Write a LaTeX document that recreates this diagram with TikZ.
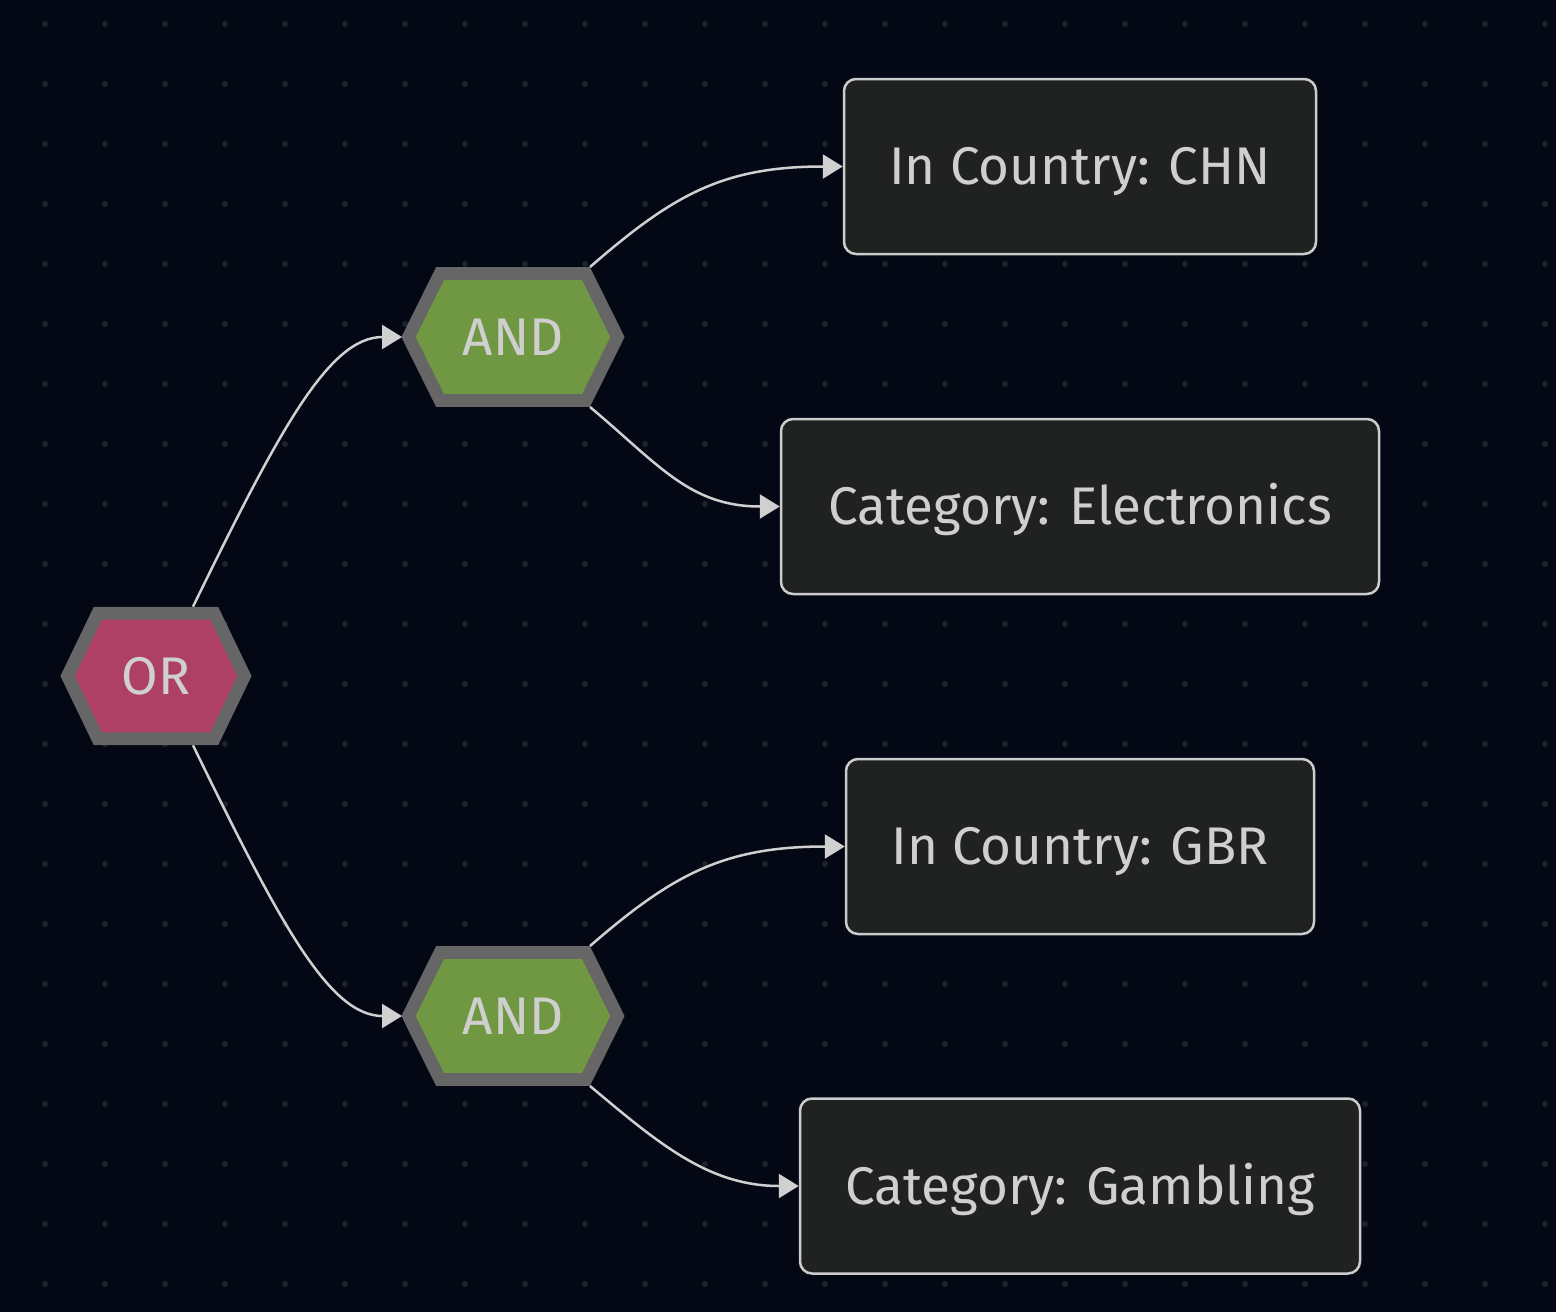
\documentclass[tikz,border=0pt]{standalone}
\usepackage{fontspec}
\setmainfont{Fira Sans}
\usetikzlibrary{calc,arrows.meta}
\definecolor{bg}{HTML}{030814}
\definecolor{dotc}{HTML}{1E222C}
\definecolor{orfill}{HTML}{AE4066}
\definecolor{andfill}{HTML}{709842}
\definecolor{hexborder}{HTML}{666666}
\definecolor{boxfill}{HTML}{202121}
\definecolor{boxline}{HTML}{CCCCCC}
\definecolor{txt}{HTML}{CFCFCF}
\definecolor{edgec}{HTML}{D0D0D0}
\newcommand\drawhexagon[5]{%
  \draw[hexline,fill=#2] ($(#1)+(-#3,0)$) -- ($(#1)+(-#4,-#5)$) -- ($(#1)+(#4,-#5)$) -- ($(#1)+(#3,0)$) -- ($(#1)+(#4,#5)$) -- ($(#1)+(-#4,#5)$) -- cycle;}
\begin{document}
\begin{tikzpicture}[x=1pt,y=-1pt,
  hexline/.style={draw=hexborder,line width=12.7pt,line join=miter},
  labeltext/.style={text=txt,font=\fontsize{53}{62}\selectfont,inner sep=0pt,text height=36.5pt,text depth=0pt},
  condbox/.style={labeltext,draw=boxline,fill=boxfill,line width=2.5pt,rounded corners=12pt,minimum height=175pt},
  link/.style={draw=edgec,line width=2.5pt,-{Triangle[length=20pt,width=24pt]}}
]
\useasboundingbox (0,0) rectangle (1556,1312);
\fill[bg] (0,0) rectangle (1556,1312);
\foreach \i in {0,...,25}{\foreach \j in {0,...,21}{\fill[dotc] (45+60*\i,24+60*\j) circle[radius=3pt];}}

% hexagons
\coordinate (or) at (156,676);
\coordinate (and1) at (513,337);
\coordinate (and2) at (513,1016);
\drawhexagon{or}{orfill}{88.5}{58.2}{62.8}
\drawhexagon{and1}{andfill}{104.5}{73}{63.5}
\drawhexagon{and2}{andfill}{104.5}{73}{63.5}
\node[labeltext] (ortext) at (or) {OR};
\node[labeltext] (and1text) at (and1) {AND};
\node[labeltext] (and2text) at (and2) {AND};

\coordinate (or-up) at ($(or)+(37,-69.3)$);
\coordinate (or-down) at ($(or)+(37,69.3)$);
\coordinate (and1-w) at ($(and1)+(-111,0)$);
\coordinate (and2-w) at ($(and2)+(-111,0)$);
\coordinate (and1-ne) at ($(and1)+(77,-70)$);
\coordinate (and1-se) at ($(and1)+(77,70)$);
\coordinate (and2-ne) at ($(and2)+(77,-70)$);
\coordinate (and2-se) at ($(and2)+(77,70)$);

% boxes
\node[condbox,minimum width=472pt] (chn) at (1080,166.5) {In Country: CHN};
\node[condbox,minimum width=598pt] (elec) at (1080,506.5) {Category: Electronics};
\node[condbox,minimum width=468pt] (gbr) at (1080,846.5) {In Country: GBR};
\node[condbox,minimum width=560pt] (gamb) at (1080,1186) {Category: Gambling};

% connectors
\draw[link] (or-up) to[out=64,in=180,out distance=197pt,in distance=73pt] (and1-w);
\draw[link] (or-down) to[out=-64,in=180,out distance=197pt,in distance=73pt] (and2-w);
\draw[link] (and1-ne) to[out=41,in=180,out distance=110pt,in distance=120pt] (chn.west);
\draw[link] (and1-se) to[out=-40,in=180,out distance=90pt,in distance=90pt] (elec.west);
\draw[link] (and2-ne) to[out=41,in=180,out distance=110pt,in distance=120pt] (gbr.west);
\draw[link] (and2-se) to[out=-40,in=180,out distance=90pt,in distance=90pt] (gamb.west);
\end{tikzpicture}
\end{document}
